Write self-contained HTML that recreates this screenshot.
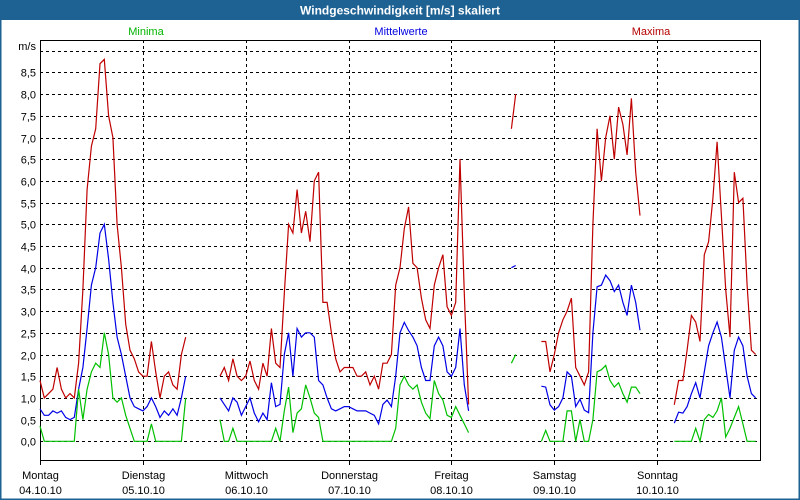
<!DOCTYPE html>
<html><head><meta charset="utf-8"><style>
html,body{margin:0;padding:0;background:#fff;}
#wrap{position:relative;width:800px;height:500px;overflow:hidden;background:#fff;}
svg text{font-family:"Liberation Sans","DejaVu Sans",sans-serif;}
</style></head><body>
<div id="wrap">
<svg id="chart" width="800" height="500" viewBox="0 0 800 500"></svg>
</div>
<script>
const N=null;
const dayNames=["Montag","Dienstag","Mittwoch","Donnerstag","Freitag","Samstag","Sonntag"];
const dayDates=["04.10.10","05.10.10","06.10.10","07.10.10","08.10.10","09.10.10","10.10.10"];
const yTicks=[0,0.5,1,1.5,2,2.5,3,3.5,4,4.5,5,5.5,6,6.5,7,7.5,8,8.5,9];
const yTickLabels=["0,0","0,5","1,0","1,5","2,0","2,5","3,0","3,5","4,0","4,5","5,0","5,5","6,0","6,5","7,0","7,5","8,0","8,5",""];
function gap(n){return Array(n).fill(N);}
const maxima=[].concat(
[1.4,1.0,1.1,1.2,1.7,1.2,1.0,1.1,1.0,1.8,3.5,5.8,6.8,7.2,8.7,8.8,7.5,7.0,5.0,4.0,2.7,2.1,1.9,1.6],
[1.5,1.5,2.3,1.6,1.0,1.5,1.6,1.3,1.2,2.0,2.4],gap(7),[1.5,1.7,1.4,1.9,1.5,1.4],
[1.5,1.85,1.4,1.2,1.8,1.5,2.6,1.8,1.7,3.4,5.0,4.8,5.8,4.8,5.3,4.6,6.0,6.2,3.2,3.2,2.5,1.9,1.6,1.7],
[1.7,1.7,1.5,1.5,1.6,1.3,1.5,1.2,1.8,1.8,2.0,3.6,4.0,4.9,5.4,4.1,4.0,3.3,2.8,2.6,3.6,4.0,4.3,3.1],
[2.9,3.2,6.5,3.4,0.85],gap(9),[7.2,8.0],gap(5),[2.3,2.3,1.6],
[2.0,2.5,2.8,3.0,3.3,1.7,1.5,1.3,1.6,5.0,7.2,6.0,7.0,7.5,6.5,7.7,7.3,6.6,7.9,6.2,5.2],gap(3),
gap(4),[0.84,1.4,1.4,2.1,2.9,2.75,2.3,4.3,4.6,5.6,6.9,5.2,3.5,2.4,6.2,5.5,5.6,3.6,2.1,2.0]);
const mittel=[].concat(
[0.75,0.6,0.6,0.7,0.65,0.7,0.55,0.5,0.55,1.2,1.7,2.6,3.6,4.0,4.8,5.0,4.2,3.2,2.4,2.0,1.5,1.0,0.8,0.75],
[0.7,0.8,1.0,0.8,0.55,0.7,0.6,0.75,0.6,1.0,1.5],gap(7),[1.0,0.85,0.7,1.0,0.9,0.6],
[0.8,1.0,0.65,0.45,0.65,0.5,1.35,0.8,0.85,2.0,2.5,1.5,2.6,2.4,2.5,2.5,2.4,1.4,1.3,1.0,0.75,0.7,0.75,0.8],
[0.8,0.75,0.7,0.7,0.7,0.65,0.6,0.4,0.85,0.95,0.8,1.5,2.5,2.74,2.55,2.4,2.2,1.7,1.4,1.4,2.2,2.4,2.2,1.6],
[1.5,1.7,2.6,1.3,0.7],gap(9),[4.0,4.05],gap(5),[1.27,1.25,0.84],
[0.72,0.8,1.0,1.6,1.5,0.8,0.97,0.72,0.66,2.5,3.56,3.6,3.83,3.7,3.45,3.6,3.2,2.9,3.6,3.2,2.56],gap(3),
gap(4),[0.42,0.67,0.65,0.8,1.1,1.35,1.0,1.6,2.2,2.5,2.75,2.4,1.7,1.0,2.1,2.4,2.2,1.5,1.1,1.0]);
const minima=[].concat(
[0.35,0,0,0,0,0,0,0,0,1.2,0.5,1.2,1.6,1.8,1.7,2.5,2.0,1.0,0.9,1.0,0.6,0.3,0,0],
[0,0,0.4,0,0,0,0,0,0,0,1.0],gap(7),[0.5,0,0,0.3,0,0],
[0,0,0,0,0,0,0,0.3,0,0.7,1.25,0.2,0.65,0.75,1.3,1.0,0.65,0.55,0,0,0,0,0,0],
[0,0,0,0,0,0,0,0,0,0,0,0.3,1.3,1.5,1.3,1.2,1.3,0.9,0.65,0.52,1.4,1.1,0.95,0.6],
[0.55,0.8,0.6,0.4,0.2],gap(9),[1.8,2.0],gap(5),[0,0.25,0],
[0,0,0,0.7,0.7,0,0.5,0,0,0.5,1.6,1.65,1.75,1.4,1.25,1.35,1.1,0.9,1.25,1.25,1.1],gap(3),
gap(4),[0,0,0,0,0,0.3,0,0.5,0.62,0.55,0.7,1.0,0.1,0.3,0.55,0.8,0.4,0,0,0]);

const L=40,R=760,T=40,B=460,HOURS=168;
const xS=h=>L+h*(R-L)/HOURS;
const yS=v=>441.3-v*43.4;
const svg=document.getElementById('chart');
const NS="http://www.w3.org/2000/svg";
function mk(tag,at,parent){const e=document.createElementNS(NS,tag);for(const k in at)e.setAttribute(k,at[k]);(parent||svg).appendChild(e);return e;}

// window frame & title
let e=mk('rect',{x:0,y:0,width:800,height:500,fill:'#fff',stroke:'#1e6294','stroke-width':3});


e=mk('rect',{x:0,y:0,width:800,height:20,fill:'#1e6294'});


e=mk('text',{x:400,y:14.5,'text-anchor':'middle','font-size':'12','font-weight':'bold',fill:'#fff'});
e.textContent='Windgeschwindigkeit [m/s] skaliert';



// legend labels
const leg=[["Minima",146,'#00b400','legend-minima'],["Mittelwerte",401,'#0000e0','legend-mittelwerte'],["Maxima",651,'#b40000','legend-maxima']];
leg.forEach(l=>{const t=mk('text',{x:l[1],y:35,'text-anchor':'middle','font-size':'11',fill:l[2]});t.textContent=l[0];

});

// horizontal grid + y labels
yTicks.forEach((v,i)=>{const y=Math.round(yS(v))+0.5;
const g=mk('line',{x1:L,x2:R,y1:y,y2:y,stroke:'#000','stroke-width':1,'stroke-dasharray':'3,3'});


if(yTickLabels[i]){const t=mk('text',{x:36,y:y+4,'text-anchor':'end','font-size':'11',fill:'#000'});t.textContent=yTickLabels[i];

}});
e=mk('text',{x:36,y:50,'text-anchor':'end','font-size':'11',fill:'#000'});e.textContent='m/s';



// vertical day grid, ticks, labels
dayNames.forEach((d,i)=>{const x=Math.round(xS(i*24))+0.5;
if(i>0){const g=mk('line',{x1:x,x2:x,y1:T,y2:B,stroke:'#000','stroke-width':1,'stroke-dasharray':'3,3'});

}
const tk=mk('line',{x1:x,x2:x,y1:B,y2:B+5,stroke:'#000','stroke-width':1});


let t=mk('text',{x:x,y:479,'text-anchor':'middle','font-size':'11',fill:'#000'});t.textContent=d;


t=mk('text',{x:x,y:494,'text-anchor':'middle','font-size':'11',fill:'#000'});t.textContent=dayDates[i];

});

// plot border
e=mk('rect',{x:L+0.5,y:T+0.5,width:R-L,height:B-T,fill:'none',stroke:'#000','stroke-width':1});



// series
function drawSeries(arr,color,name){let segs=[],cur=[];
arr.forEach((v,h)=>{if(v===null){if(cur.length)segs.push(cur);cur=[];}else cur.push(xS(h).toFixed(1)+','+yS(v).toFixed(1));});
if(cur.length)segs.push(cur);
const g=mk('g',{});


segs.forEach(s=>{if(s.length<2)return;const p=mk('polyline',{points:s.join(' '),fill:'none',stroke:color,'stroke-width':1.2},g);

});}
drawSeries(maxima,'#c00000','series-maxima');
drawSeries(mittel,'#0000e6','series-mittelwerte');
drawSeries(minima,'#00c000','series-minima');
</script>
</body></html>
